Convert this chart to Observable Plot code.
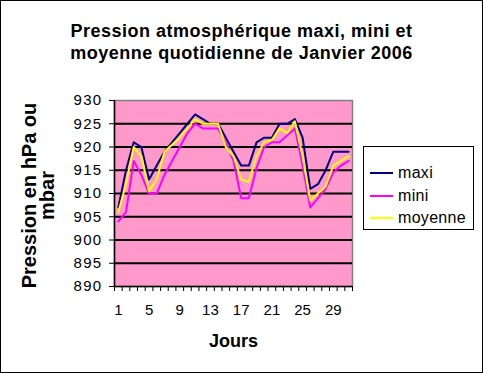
<!DOCTYPE html>
<html><head><meta charset="utf-8">
<script src="https://cdn.jsdelivr.net/npm/d3@7"></script>
<script src="https://cdn.jsdelivr.net/npm/@observablehq/plot@0.6"></script>
<style>
body{margin:0;background:#fff;}
#chart{position:relative;width:483px;height:373px;overflow:hidden;}
#chart svg{position:absolute;left:0;top:0;}
#border{position:absolute;left:0;top:0;width:481px;height:371px;border:1px solid #000;pointer-events:none;}
.legend{position:absolute;left:363px;top:146px;width:109px;height:82px;border:1px solid #000;background:#fff;font:16px "Liberation Sans",Arial,sans-serif;color:#000;letter-spacing:0.3px;}
.legend .item{position:absolute;left:6px;height:20px;display:flex;align-items:center;}
.legend .swatch{width:23px;height:2px;margin-right:5px;}
</style></head><body>
<div id="chart"></div>
<script>
const days = [1,2,3,4,5,6,7,8,9,10,11,12,13,14,15,16,17,18,19,20,21,22,23,24,25,26,27,28,29,30,31];
const maxi = [907,915,921,920,913,916,919,921,923,925,927,926,925,925,922,919,916,916,921,922,922,925,925,926,922,911,912,915,919,919,919];
const mini = [904,906,917,914,910,910,914,917,920,923,925,924,924,924,921,917,909,909,915.5,920,921,921,922.5,924,916,907,909,911,914.5,916,917];
const moyenne = [906,912,920,918,910.5,913,919,920.5,922,924,926,925,925,925,920,918,913,912.5,918,921,921.5,924,923,925.5,918,908.5,910,911.5,916,917,918];
const seriesNames = ["maxi","mini","moyenne"];
const seriesColors = ["#000080","#FF00FF","#FFFF00"];
const yTicks = [890,895,900,905,910,915,920,925,930];
const gridValues = [895,900,905,910,915,920,925];
const xLabels = [1,5,9,13,17,21,25,29];
const titleText = "Pression atmosphérique maxi, mini et\nmoyenne quotidienne de Janvier 2006";
const yLabelText = "Pression en hPa ou\nmbar";
const xLabelText = "Jours";

const seriesValues = [maxi, mini, moyenne];
const rows = [];
seriesValues.forEach((vals, s) => vals.forEach((v, i) => rows.push({day: days[i], value: v, serie: seriesNames[s]})));
const boundaries = days.map(d => d - 0.5).concat([days[days.length - 1] + 0.5]);

const font = '"Liberation Sans", Arial, sans-serif';
const chart = Plot.plot({
  width: 483, height: 373,
  marginLeft: 114, marginRight: 131, marginTop: 100, marginBottom: 87,
  x: {domain: [0.5, 31.5]},
  y: {domain: [890, 930]},
  style: {fontFamily: font, fontSize: "15px", color: "#000", background: "transparent", overflow: "visible"},
  marks: [
    Plot.frame({fill: "#FF99CC", stroke: "#808080", strokeWidth: 1.5}),
    Plot.ruleY(gridValues, {stroke: "#000", strokeWidth: 2}),
    Plot.ruleX([0.5], {stroke: "#000", strokeWidth: 1.5}),
    Plot.ruleY([890], {stroke: "#000", strokeWidth: 1.5}),
    Plot.axisY({ticks: yTicks, tickSize: 5, tickPadding: 7, tickFormat: d => String(d), label: null, fontSize: 15, stroke: "#000"}),
    Plot.axisX({ticks: boundaries, tickSize: 5, tickFormat: () => "", label: null, stroke: "#000"}),
    Plot.axisX({ticks: xLabels, tickSize: 0, tickPadding: 18, tickFormat: d => String(d), label: null, fontSize: 15}),
    ...seriesNames.map((name, s) => Plot.lineY(rows.filter(r => r.serie === name), {x: "day", y: "value", stroke: seriesColors[s], strokeWidth: 2})),
    Plot.text([titleText], {frameAnchor: "top", textAnchor: "middle", dx: 8, dy: -60, fontSize: 18, fontWeight: "bold", lineHeight: 1.22, lineAnchor: "middle", fill: "#000"}),
    Plot.text([yLabelText], {frameAnchor: "left", textAnchor: "middle", rotate: -90, dx: -75, dy: 2, fontSize: 20, fontWeight: "bold", lineHeight: 0.88, lineAnchor: "middle", fill: "#000"}),
    Plot.text([xLabelText], {frameAnchor: "bottom", textAnchor: "middle", dy: 55, fontSize: 18, fontWeight: "bold", lineAnchor: "middle", fill: "#000"})
  ]
});
const root = document.getElementById("chart");
root.appendChild(chart);
// widen glyph spacing a little, as the original renderer does
d3.select(chart).selectAll("text").each(function() {
  const t = this.textContent;
  if (t.startsWith("Pression atm") || t.startsWith("moyenne quot")) this.style.letterSpacing = "0.5px";
});
d3.select(chart).selectAll('g[aria-label="y-axis tick label"] text').style("letter-spacing", "1.3px");
const legend = document.createElement("div");
legend.className = "legend";
seriesNames.forEach((name, s) => {
  const item = document.createElement("div");
  item.className = "item";
  item.style.top = (16 + s * 22.5) + "px";
  const sw = document.createElement("div");
  sw.className = "swatch";
  sw.style.background = seriesColors[s];
  const lab = document.createElement("span");
  lab.textContent = name;
  item.appendChild(sw); item.appendChild(lab);
  legend.appendChild(item);
});
root.appendChild(legend);
const border = document.createElement("div");
border.id = "border";
root.appendChild(border);
</script>
</body></html>
